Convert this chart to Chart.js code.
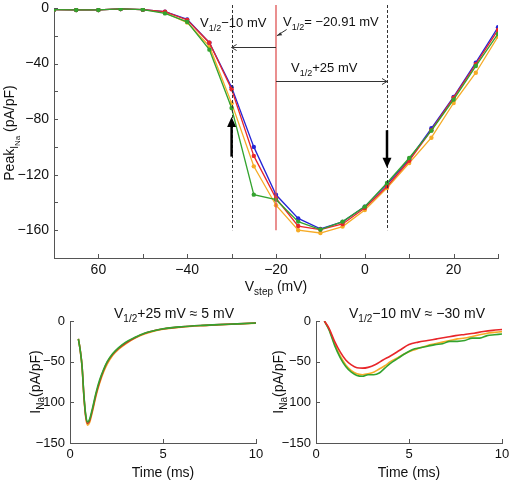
<!DOCTYPE html>
<html>
<head>
<meta charset="utf-8">
<script src="https://cdn.jsdelivr.net/npm/chart.js@4/dist/chart.umd.min.js"></script>
<style>
  html, body { margin: 0; padding: 0; background: #fff; }
  #wrap { position: relative; width: 510px; height: 480px; overflow: hidden; }
  canvas { position: absolute; }
  #ivChart    { left: 0;     top: 0; }
  #traceLeft  { left: 0;     top: 300px; }
  #traceRight { left: 266px; top: 300px; }
</style>
</head>
<body>
<div id="wrap">
  <canvas id="ivChart" width="510" height="300"></canvas>
  <canvas id="traceLeft" width="266" height="180"></canvas>
  <canvas id="traceRight" width="244" height="180"></canvas>
</div>
<script>
// ── Data: peak INa vs step voltage ──────────────────────────────
const vSteps   = [-70, -65, -60, -55, -50, -45, -40, -35, -30, -25, -20, -15, -10, -5, 0, 5, 10, 15, 20, 25, 30];
const peakRed    = [-1.2, -1.4, -1.4, -0.7, -1.2, -2.6, -8.6, -25, -58.5, -106.5, -137, -157, -159.5, -155.5, -144, -128.5, -110, -88, -64.5, -40.5, -15.8];
const peakBlue   = [-1.2, -1.4, -1.4, -0.7, -1.2, -2.6, -8.2, -25, -57, -100, -134.5, -151.5, -159, -154, -143, -127, -109, -86.6, -64, -39.4, -13.9];
const peakGreen  = [-1.2, -1.4, -1.4, -0.7, -1.2, -3.9, -10, -30, -72, -134.4, -138, -153.8, -159.5, -153.8, -143, -126, -108, -88.3, -66, -41.8, -18.7];
const peakOrange = [-1.2, -1.4, -1.4, -0.7, -1.2, -3.4, -10.5, -27.5, -68.5, -114, -142, -160, -162, -157.4, -145.4, -129.6, -111.6, -93.4, -68.4, -46.6, -20.6];

const ivXLabels = { '-60': '60', '-40': '\u221240', '-20': '\u221220', '0': '0', '20': '20' };
const ivYLabels = { '0': '0', '-40': '\u221240', '-80': '\u221280', '-120': '\u2212120', '-160': '\u2212160' };

// ── Data: current traces ────────────────────────────────────────
// step to V1/2 + 25 mV (~5 mV)
const tLeft      = [0.45, 0.55, 0.65, 0.75, 0.85, 0.95, 1.05, 1.2, 1.4, 1.6, 1.8, 2.0, 2.3, 2.6, 3.0, 3.5, 4.0, 4.5, 5.0, 6.0, 7.0, 8.0, 9.0, 10];
const leftGreen  = [-22, -36, -56, -92, -116, -124, -121, -108, -88, -72, -60, -50, -40, -33, -26, -20, -15, -12, -9.5, -7, -5.5, -4.5, -3.5, -2.5];
const leftRed    = [-22, -36, -56, -93, -118, -126, -123, -110, -90, -74, -61, -51, -41, -34, -27, -20.5, -15.5, -12, -9.8, -7.2, -5.6, -4.5, -3.5, -2.5];
const leftOrange = [-22, -36, -57, -94, -119, -128, -125, -112, -92, -76, -63, -53, -42, -35, -28, -21, -16, -12.5, -10, -7.5, -5.8, -4.6, -3.6, -2.6];

// step to V1/2 - 10 mV (~-30 mV)
const tRightRed = [0.45, 0.7, 1.0, 1.3, 1.6, 1.9, 2.2, 2.5, 2.8, 3.2, 3.6, 4.0, 4.5, 5.0, 5.5, 6.0, 6.5, 7.0, 7.5, 8.0, 8.5, 9.0, 9.5, 10];
const rightRed  = [0, -9, -25, -38, -48, -54, -57.5, -58, -57, -53.5, -48, -43, -36, -29, -26, -24, -22, -20, -18, -16.5, -15, -13, -11.5, -10.5];
const tRight      = [0.45, 0.7, 1.0, 1.3, 1.6, 1.9, 2.2, 2.5, 2.8, 3.1, 3.4, 3.7, 4.0, 4.4, 4.8, 5.2, 5.6, 6.0, 6.4, 6.8, 7.2, 7.6, 8.0, 8.4, 8.8, 9.2, 9.6, 10];
const rightGreen  = [0, -11, -30, -45, -56, -63, -67, -68, -66, -66, -64, -58, -52, -46, -40, -35, -33, -31, -29, -28, -25, -25, -24, -21, -21, -18, -17, -16];
const rightOrange = [0, -10, -28, -43, -54, -61, -65, -66, -65, -63, -59, -55, -50, -45, -40, -36, -33, -30, -28, -26, -24, -22, -21, -19, -17, -15, -14, -13];

const traceYLabels = { '0': '0', '-50': '\u221250', '-100': '100', '-150': '\u2212150' };

// ── Style ───────────────────────────────────────────────────────
const FONT = "'Liberation Sans', Arial, sans-serif";
const AXIS = '#555';
const RED = '#e8262a', BLUE = '#2424d6', GREEN = '#33a32e', ORANGE = '#f6ab26';

// ── Helpers ─────────────────────────────────────────────────────
function pts(xs, ys) { return xs.map((x, i) => ({ x, y: ys[i] })); }

// parts: [text, level]  level 0 = normal, 1 = sub, 2 = sub of sub
function drawRich(ctx, parts, x, y, size, align) {
    const sizes = [size, Math.round(size * 0.7), Math.round(size * 0.58)];
    const drops = [0, size * 0.3, size * 0.45];
    let total = 0;
    parts.forEach(([t, l]) => { ctx.font = sizes[l] + 'px ' + FONT; total += ctx.measureText(t).width; });
    let cx = align === 'center' ? x - total / 2 : x;
    ctx.textAlign = 'left';
    ctx.textBaseline = 'alphabetic';
    parts.forEach(([t, l]) => {
        ctx.font = sizes[l] + 'px ' + FONT;
        ctx.fillText(t, cx, y + drops[l]);
        cx += ctx.measureText(t).width;
    });
}

function drawRotated(ctx, parts, x, y, size) {
    ctx.save();
    ctx.translate(x, y);
    ctx.rotate(-Math.PI / 2);
    drawRich(ctx, parts, 0, 0, size, 'center');
    ctx.restore();
}

function line(ctx, x1, y1, x2, y2) {
    ctx.beginPath(); ctx.moveTo(x1, y1); ctx.lineTo(x2, y2); ctx.stroke();
}

// ticks pointing into the plot, like the original figure
const inwardTicks = {
    id: 'inwardTicks',
    afterDraw(chart) {
        const { ctx, chartArea: a, scales: { x, y } } = chart;
        ctx.save();
        ctx.strokeStyle = AXIS; ctx.lineWidth = 1;
        x.ticks.forEach(t => { const p = Math.round(x.getPixelForValue(t.value)) + 0.5; line(ctx, p, a.bottom, p, a.bottom - 4); });
        y.ticks.forEach(t => { const p = Math.round(y.getPixelForValue(t.value)) + 0.5; line(ctx, a.left, p, a.left + 4, p); });
        ctx.restore();
    }
};

// fixed axis boxes, no extra label padding so the plot area lands where the figure has it
function axes(xMin, xMax, xStep, xLabel, yMin, yMax, yStep, yLabel, yWidth, xHeight, tickSize) {
    const tickFont = { family: FONT, size: tickSize };
    return {
        x: {
            type: 'linear', min: xMin, max: xMax,
            grid: { display: false, drawTicks: false },
            border: { display: true, color: AXIS },
            ticks: { stepSize: xStep, autoSkip: false, maxRotation: 0, padding: 4, color: '#111', font: tickFont,
                     callback: v => xLabel(Math.round(v)) },
            afterFit: s => { s.height = xHeight; s.paddingLeft = 0; s.paddingRight = 0; }
        },
        y: {
            min: yMin, max: yMax,
            grid: { display: false, drawTicks: false },
            border: { display: true, color: AXIS },
            ticks: { stepSize: yStep, autoSkip: false, padding: 5, color: '#111', font: tickFont,
                     callback: v => yLabel(Math.round(v)) },
            afterFit: s => { s.width = yWidth; s.paddingTop = 0; s.paddingBottom = 0; }
        }
    };
}

// ── IV curve with guides ────────────────────────────────────────
const ivGuides = {
    id: 'ivGuides',
    afterDatasetsDraw(chart) {
        const { ctx, scales: { x, y } } = chart;
        const X = v => x.getPixelForValue(v), Y = v => y.getPixelForValue(v);
        ctx.save();

        // dashed step markers
        ctx.strokeStyle = '#333'; ctx.lineWidth = 1; ctx.setLineDash([3, 2]);
        [-30, 5].forEach(v => line(ctx, Math.round(X(v)) + 0.5, Y(0) - 3, Math.round(X(v)) + 0.5, Y(-160)));
        ctx.setLineDash([]);

        // V1/2 line
        ctx.strokeStyle = 'rgba(222,80,80,0.8)'; ctx.lineWidth = 1.6;
        line(ctx, X(-20), Y(0) - 3, X(-20), Y(-160));

        // horizontal arrows
        ctx.strokeStyle = '#333'; ctx.lineWidth = 1;
        const yl = Math.round(Y(-28)) + 0.5, yr = Math.round(Y(-52.6)) + 0.5;
        line(ctx, X(-20), yl, X(-30), yl);
        line(ctx, X(-30) + 5, yl - 3, X(-30), yl); line(ctx, X(-30), yl, X(-30) + 5, yl + 3);
        line(ctx, X(-20), yr, X(5), yr);
        line(ctx, X(5) - 5, yr - 3, X(5), yr); line(ctx, X(5), yr, X(5) - 5, yr + 3);
        // small pointer to V1/2 line
        line(ctx, X(-17.6), Y(-15.5), X(-19.8), Y(-20));
        ctx.beginPath();
        ctx.moveTo(X(-19.8), Y(-20)); ctx.lineTo(X(-19.0), Y(-17.4)); ctx.lineTo(X(-18.6), Y(-19.6));
        ctx.closePath(); ctx.fillStyle = '#333'; ctx.fill();

        // thick arrows
        ctx.strokeStyle = '#000'; ctx.fillStyle = '#000'; ctx.lineWidth = 2.5;
        const up = X(-30), dn = X(5);
        line(ctx, up, Y(-107), up, Y(-78.5) + 8);
        ctx.beginPath(); ctx.moveTo(up, Y(-78.5)); ctx.lineTo(up - 4.5, Y(-78.5) + 10); ctx.lineTo(up + 4.5, Y(-78.5) + 10); ctx.closePath(); ctx.fill();
        line(ctx, dn, Y(-88), dn, Y(-115) - 8);
        ctx.beginPath(); ctx.moveTo(dn, Y(-115)); ctx.lineTo(dn - 4.5, Y(-115) - 10); ctx.lineTo(dn + 4.5, Y(-115) - 10); ctx.closePath(); ctx.fill();

        // labels
        ctx.fillStyle = '#111';
        drawRich(ctx, [['V', 0], ['1/2', 1], ['\u221210 mV', 0]], X(-37.1), Y(-13.7), 13);
        drawRich(ctx, [['V', 0], ['1/2', 1], ['= \u221220.91 mV', 0]], X(-18.4), Y(-13), 13);
        drawRich(ctx, [['V', 0], ['1/2', 1], ['+25 mV', 0]], X(-16.6), Y(-46), 13);
        ctx.restore();
    },
    afterDraw(chart) {
        const { ctx, chartArea: a } = chart;
        ctx.save(); ctx.fillStyle = '#111';
        drawRotated(ctx, [['Peak', 0], ['I', 1], ['Na', 2], [' (pA/pF)', 0]], 14, (a.top + a.bottom) / 2, 14);
        drawRich(ctx, [['V', 0], ['step', 1], [' (mV)', 0]], (a.left + a.right) / 2, 291, 14, 'center');
        ctx.restore();
    }
};

function ivSet(label, data, color) {
    return { label, data: pts(vSteps, data), borderColor: color, backgroundColor: color,
             borderWidth: 1.3, pointRadius: 2.2, pointBorderWidth: 0, tension: 0 };
}

new Chart(document.getElementById('ivChart'), {
    type: 'line',
    data: { datasets: [
        ivSet('green', peakGreen, GREEN),
        ivSet('red', peakRed, RED),
        ivSet('blue', peakBlue, BLUE),
        ivSet('orange', peakOrange, ORANGE)
    ] },
    options: {
        responsive: false, animation: false,
        layout: { padding: { left: 0, right: 12, top: 8, bottom: 0 } },
        plugins: { legend: { display: false }, tooltip: { enabled: false } },
        scales: axes(-70, 30, 10, v => ivXLabels[v] ?? '', -180, 0, 20, v => ivYLabels[v] ?? '', 54, 42, 14)
    },
    plugins: [inwardTicks, ivGuides]
});

// ── Current traces ──────────────────────────────────────────────
function traceSet(label, t, data, color) {
    return { label, data: pts(t, data), borderColor: color, borderWidth: 1.6,
             pointRadius: 0, cubicInterpolationMode: 'monotone' };
}

function traceChart(id, datasets, title, titleShift, yWidth, rightPad, yTitleX) {
    const labels = {
        id: 'traceLabels',
        afterDraw(chart) {
            const { ctx, chartArea: a } = chart;
            const cx = (a.left + a.right) / 2;
            ctx.save(); ctx.fillStyle = '#111';
            drawRich(ctx, title, cx + titleShift, a.top - 3, 14, 'center');
            drawRich(ctx, [['Time (ms)', 0]], cx, 177, 14, 'center');
            drawRotated(ctx, [['I', 0], ['Na', 1], ['(pA/pF)', 0]], yTitleX, (a.top + a.bottom) / 2, 14);
            ctx.restore();
        }
    };
    new Chart(document.getElementById(id), {
        type: 'line',
        data: { datasets },
        options: {
            responsive: false, animation: false,
            layout: { padding: { left: 0, right: rightPad, top: 21, bottom: 0 } },
            plugins: { legend: { display: false }, tooltip: { enabled: false } },
            scales: axes(0, 10, 5, v => String(v), -150, 0, 50, v => traceYLabels[v] ?? '', yWidth, 37, 13)
        },
        plugins: [inwardTicks, labels]
    });
}

traceChart('traceLeft', [
    traceSet('green', tLeft, leftGreen, GREEN),
    traceSet('red', tLeft, leftRed, '#c8302a'),
    traceSet('orange', tLeft, leftOrange, ORANGE)
], [['V', 0], ['1/2', 1], ['+25 mV \u2248 5 mV', 0]], 11, 70, 10, 40);

traceChart('traceRight', [
    traceSet('red', tRightRed, rightRed, RED),
    traceSet('green', tRight, rightGreen, GREEN),
    traceSet('orange', tRight, rightOrange, ORANGE)
], [['V', 0], ['1/2', 1], ['\u221210 mV \u2248 \u221230 mV', 0]], 8, 50, 8, 17);
</script>
</body>
</html>
